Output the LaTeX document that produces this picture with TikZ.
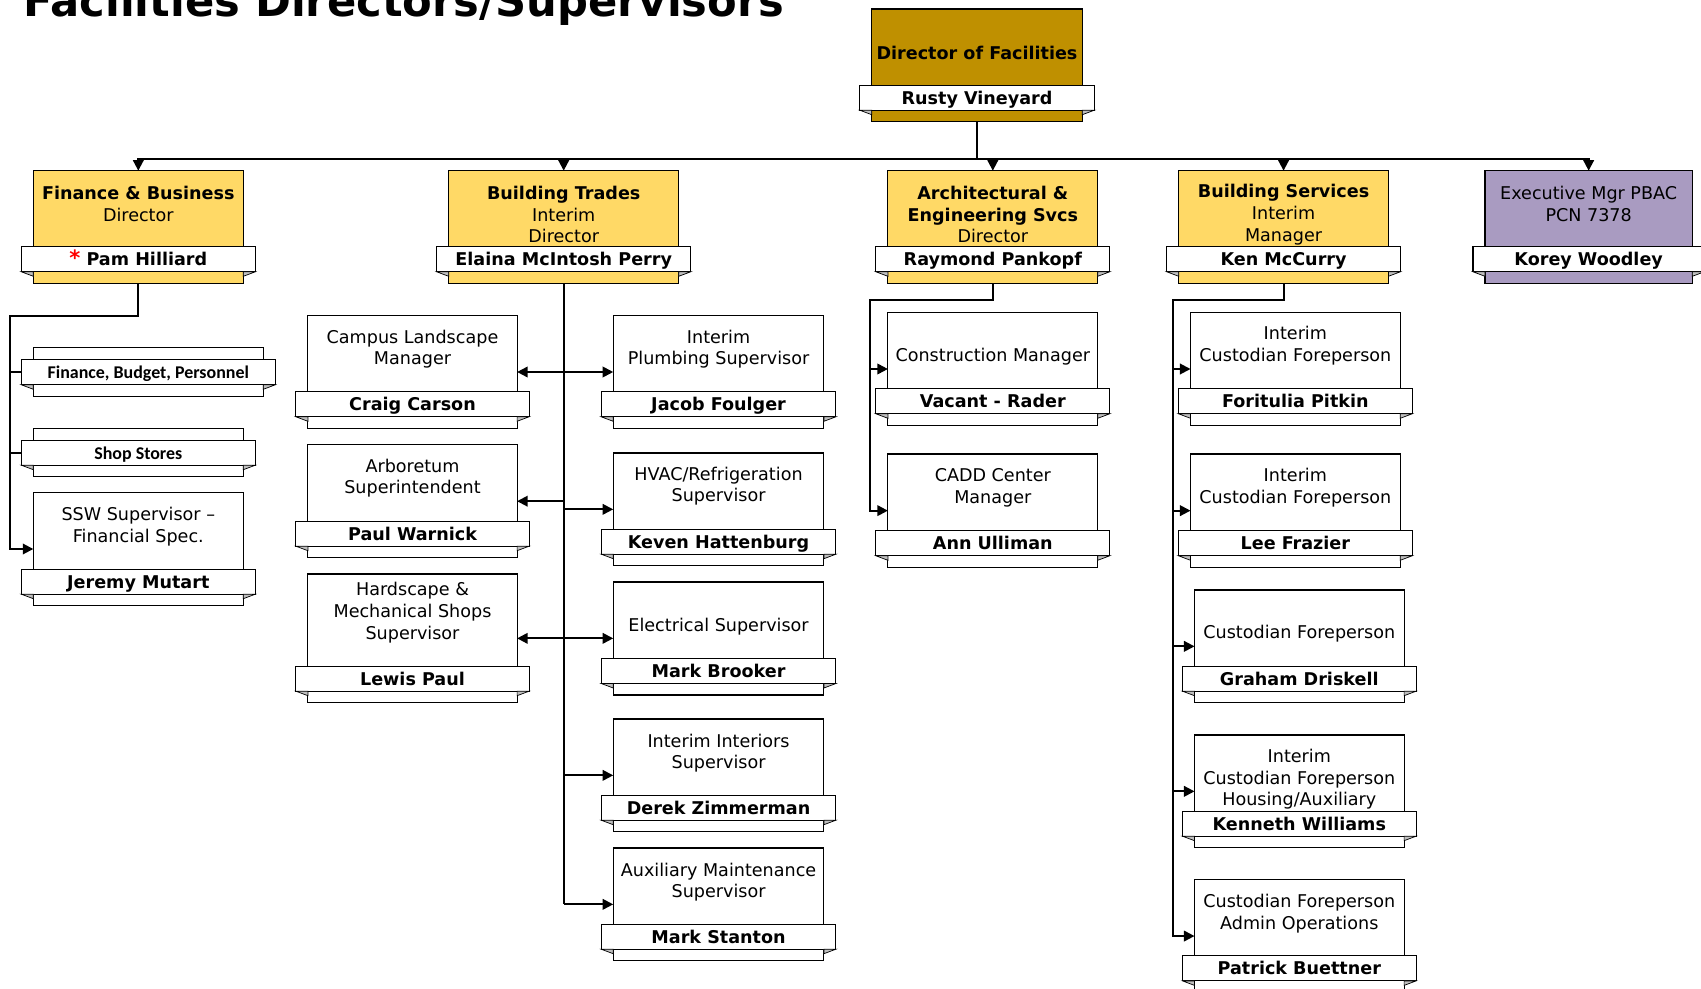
\documentclass[tikz,border=0pt]{standalone}
\usepackage{fontspec}
\setmainfont{DejaVu Sans}
\newfontfamily\calibri{Carlito}
\usetikzlibrary{arrows.meta,fit}

\definecolor{dirgold}{HTML}{BF9000}
\definecolor{unitjaune}{HTML}{FFD966}
\definecolor{execmauve}{HTML}{A99BC1}
\definecolor{pligris}{HTML}{BFBFBF}

% #1 nom, #2 couleur, #3-#6 cadre (gauche, haut, droite, bas), #7 fonction, #8 personne, #9 y fonction
\newcommand{\orgbox}[9]{%
  \node[cadre, fill=#2, fit={(#3,#4) (#5,#6)}] (#1) {};
  \node[bandeau, fit={(#3-12,#6-36.5) (#5+12,#6-11.5)}] (#1n) {};
  \node[nom] (#1p) at (#1n.center) {#8};
  \filldraw[pli] (#3-12,#6-11.5) -- (#3,#6-11.5) -- (#3,#6-7) -- cycle;
  \filldraw[pli] (#5+12,#6-11.5) -- (#5,#6-11.5) -- (#5,#6-7) -- cycle;
  \node[fonction] (#1f) at ({(#3+#5)/2},#9) {#7};
}

\begin{document}
\begin{tikzpicture}[x=0.2mm, y=-0.2mm]
\tikzset{cadre/.style={draw, line width=0.6pt, inner sep=0pt, outer sep=0pt},
  bandeau/.style={draw, fill=white, line width=0.6pt, inner sep=0pt, outer sep=0pt},
  nom/.style={inner sep=0pt, text height=0.73em, text depth=0pt, font=\bfseries\fontsize{10}{12}\selectfont},
  pli/.style={fill=pligris, draw, line width=0.4pt},
  fonction/.style={align=center, inner sep=0pt, font=\fontsize{10}{12.3}\selectfont},
  trait/.style={line width=1.1pt},
  fleche/.style={line width=1.1pt, -{Triangle[length=6pt, width=6pt]}},
  dfleche/.style={line width=1.1pt, {Triangle[length=6pt, width=6pt]}-{Triangle[length=6pt, width=6pt]}}}
\clip (0,0) rectangle (1701,989);

\node[anchor=base west, inner sep=0pt, font=\bfseries\fontsize{24.6}{30}\selectfont] (titre) at (23,17) {Facilities Directors/Supervisors};

% direction
\orgbox{dir}{dirgold}{871.7}{9}{1082.3}{121.7}{\textbf{Director of Facilities}}{Rusty Vineyard}{53.3}

% services
\orgbox{fin}{unitjaune}{33.3}{170.7}{243.3}{283.3}{\textbf{Finance \& Business}\\Director}{{\color{red}\large *}\ Pam Hilliard}{203.8}
\orgbox{bt}{unitjaune}{448.7}{170.7}{678.7}{283.3}{\textbf{Building Trades}\\Interim\\Director}{Elaina McIntosh Perry}{214.5}
\orgbox{arch}{unitjaune}{887.9}{170.7}{1097.7}{283.3}{\textbf{Architectural \&}\\\textbf{Engineering Svcs}\\Director}{Raymond Pankopf}{214.6}
\orgbox{bs}{unitjaune}{1178.7}{170.7}{1388.4}{283.3}{\textbf{Building Services}\\Interim\\Manager}{Ken McCurry}{214.6}
\orgbox{exec}{execmauve}{1485}{170.7}{1692.3}{283.3}{Executive Mgr PBAC\\PCN 7378}{Korey Woodley}{203.7}

\coordinate (hub) at (977,159);
\draw[trait] (dir.south) -- (hub);
\draw[fleche] (hub) -| (fin.north);
\draw[fleche] (hub) -| (bt.north);
\draw[fleche] (hub) -| (arch.north);
\draw[fleche] (hub) -| (bs.north);
\draw[fleche] (hub) -| (exec.north);

% finance
\orgbox{fbp}{white}{33.3}{347.7}{263.3}{396.3}{}{{\calibri\fontsize{10.2}{12}\selectfont Finance, Budget, Personnel}}{372}
\orgbox{shop}{white}{33.3}{428.3}{243.3}{476.7}{}{{\calibri\fontsize{10.2}{12}\selectfont Shop Stores}}{452}
\orgbox{ssw}{white}{33.3}{492.3}{243.3}{605.7}{SSW Supervisor --\\Financial Spec.}{Jeremy Mutart}{526.9}
\coordinate (finbus) at (10,316);
\draw[fleche] (fin.south) |- (finbus) |- (ssw.west);
\draw[trait] (finbus) |- (fbpn.west);
\draw[trait] (finbus) |- (shopn.west);

% building trades
\orgbox{campus}{white}{307.9}{315.7}{517.1}{428.3}{Campus Landscape\\Manager}{Craig Carson}{349.2}
\orgbox{arbo}{white}{307.9}{444.7}{517.1}{557.7}{Arboretum\\Superintendent}{Paul Warnick}{478.2}
\orgbox{hard}{white}{307.9}{574}{517.1}{702.7}{Hardscape \&\\Mechanical Shops\\Supervisor}{Lewis Paul}{612.7}
\orgbox{plomb}{white}{613.2}{315.7}{823.9}{428.3}{Interim\\Plumbing Supervisor}{Jacob Foulger}{349.2}
\orgbox{hvac}{white}{613.2}{453}{823.9}{565.7}{HVAC/Refrigeration\\Supervisor}{Keven Hattenburg}{486.2}
\orgbox{elec}{white}{613.2}{582}{823.9}{695}{Electrical Supervisor}{Mark Brooker}{626.7}
\orgbox{inter}{white}{613.2}{719}{823.9}{831.7}{Interim Interiors\\Supervisor}{Derek Zimmerman}{753}
\orgbox{aux}{white}{613.2}{848}{823.9}{960.7}{Auxiliary Maintenance\\Supervisor}{Mark Stanton}{882.2}
\draw[trait] (bt.south) -- (bt.south |- aux.west);
\draw[dfleche] (campus.east) -- (plomb.west);
\draw[fleche] (bt.south |- arbo.east) -- (arbo.east);
\draw[fleche] (bt.south |- hvac.west) -- (hvac.west);
\draw[dfleche] (hard.east) -- (hard.east -| elec.west);
\draw[fleche] (bt.south |- inter.west) -- (inter.west);
\draw[fleche] (bt.south |- aux.west) -- (aux.west);

% architecture
\orgbox{constr}{white}{887.9}{312.7}{1097.7}{425.3}{Construction Manager}{Vacant - Rader}{356.7}
\orgbox{cadd}{white}{887.9}{454}{1097.7}{567.3}{CADD Center\\Manager}{Ann Ulliman}{487.8}
\coordinate (archbus) at (869.7,300);
\draw[fleche] (arch.south) |- (archbus) |- (cadd.west);
\draw[fleche] (archbus) |- (constr.west);

% building services
\orgbox{fori}{white}{1190.5}{312.7}{1400.2}{425.3}{Interim\\Custodian Foreperson}{Foritulia Pitkin}{345.8}
\orgbox{lee}{white}{1190.5}{454}{1400.2}{567.3}{Interim\\Custodian Foreperson}{Lee Frazier}{487.8}
\orgbox{graham}{white}{1194.5}{590}{1404.1}{702.7}{Custodian Foreperson}{Graham Driskell}{634}
\orgbox{kenneth}{white}{1194.5}{735}{1404.1}{847.7}{Interim\\Custodian Foreperson\\Housing/Auxiliary}{Kenneth Williams}{779.2}
\orgbox{patrick}{white}{1194.5}{879.7}{1404.1}{992.4}{Custodian Foreperson\\Admin Operations}{Patrick Buettner}{913.8}
\coordinate (bsbus) at (1172.8,300);
\draw[fleche] (bs.south) |- (bsbus) |- (patrick.west);
\draw[fleche] (bsbus) |- (fori.west);
\draw[fleche] (bsbus) |- (lee.west);
\draw[fleche] (bsbus) |- (graham.west);
\draw[fleche] (bsbus) |- (kenneth.west);
\end{tikzpicture}
\end{document}
